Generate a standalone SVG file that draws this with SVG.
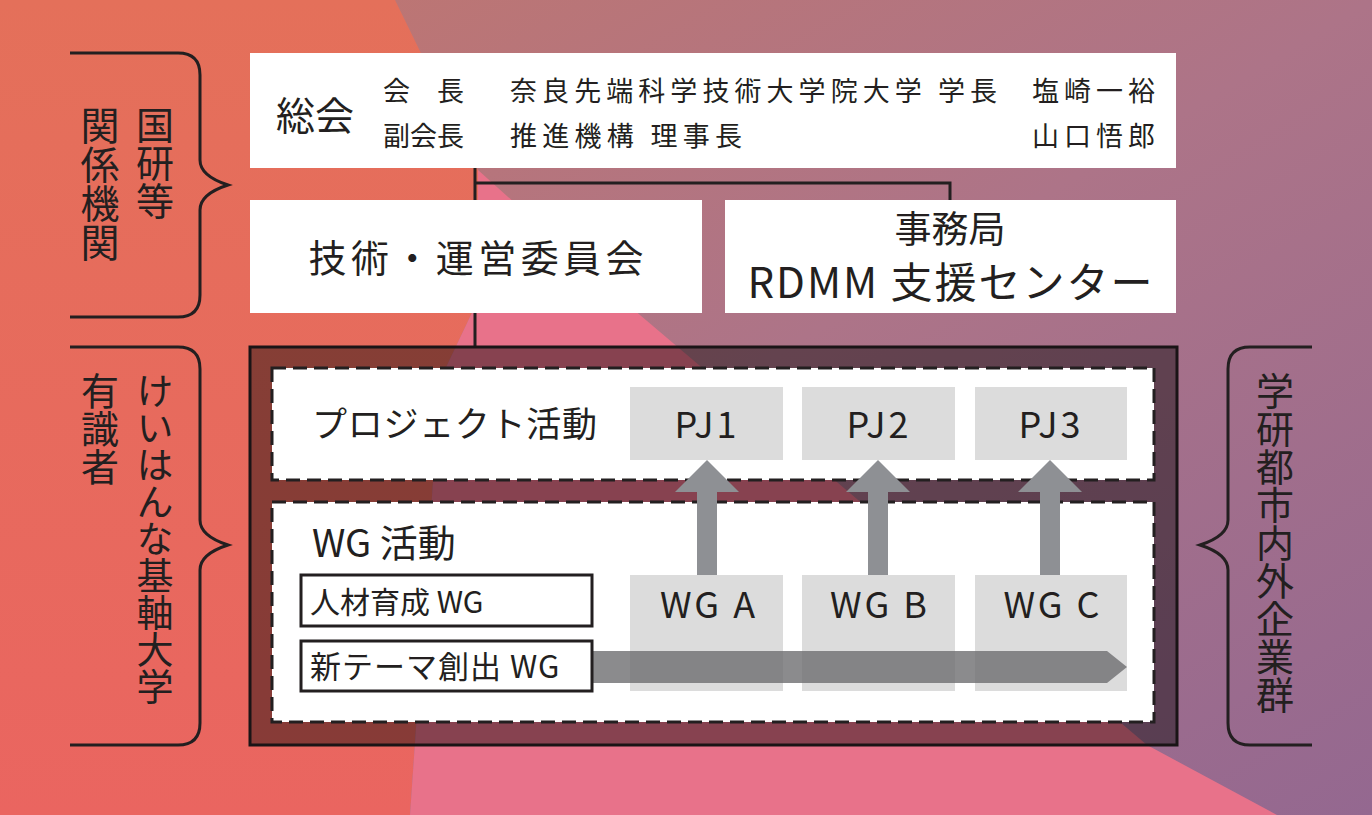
<svg xmlns="http://www.w3.org/2000/svg" width="1372" height="815" viewBox="0 0 1372 815">
<defs>
<linearGradient id="bgm" x1="0" y1="0" x2="1" y2="1"><stop offset="0" stop-color="#c2766c"/><stop offset="0.5" stop-color="#ad7488"/><stop offset="1" stop-color="#946890"/></linearGradient>
<linearGradient id="bgo" x1="0" y1="0" x2="0" y2="1"><stop offset="0" stop-color="#e4705a"/><stop offset="1" stop-color="#ea6560"/></linearGradient>
<style>
text{font-family:"Noto Sans CJK JP","Noto Sans",sans-serif;fill:#231f20}
.box{fill:#fff}
.ln{stroke:#231f20;stroke-width:3;fill:none}
.dash{fill:#fff;stroke:#231f20;stroke-width:3;stroke-dasharray:14 7}
.g{fill:#dcdcdc}
.up{fill:#8e9094}
.v{writing-mode:vertical-rl}
</style>
</defs>
<rect width="1372" height="815" fill="url(#bgm)"/>
<polygon points="0,0 395,0 478,170 478,300 440,380 410,815 0,815" fill="url(#bgo)"/>
<polygon points="478,170 640,315 1147,745 1277,815 410,815 440,380 478,300" fill="#e8728a"/>
<g id="brackets">
<path class="ln" d="M70,53 H178 Q200,53 200,75 V160 Q200,176 228,185 Q200,194 200,210 V295 Q200,317 178,317 H70"/>
<path class="ln" d="M70,347 H178 Q200,347 200,369 V520 Q200,536 228,545 Q200,554 200,570 V723 Q200,745 178,745 H70"/>
<path class="ln" d="M1312,347 H1250 Q1228,347 1228,369 V520 Q1228,536 1200,545 Q1228,554 1228,570 V723 Q1228,745 1250,745 H1312"/>
</g>
<text class="v" x="155" y="106" font-size="38">国研等</text>
<text class="v" x="100" y="106" font-size="39">関係機関</text>
<text class="v" x="155" y="372" font-size="37">けいはんな基軸大学</text>
<text class="v" x="100" y="372" font-size="38">有識者</text>
<text class="v" x="1275" y="372" font-size="38">学研都市内外企業群</text>
<g id="connectors">
<path class="ln" d="M475,168 V347 M475,183 H950 V200"/>
</g>
<g id="soukai">
<rect class="box" x="250" y="53" width="926" height="115"/>
<text x="276" y="130" font-size="39">総会</text>
<text x="383" y="101" font-size="27">会　長</text>
<text x="510" y="101" font-size="27" textLength="487">奈良先端科学技術大学院大学 学長</text>
<text x="1032" y="101" font-size="27" textLength="123">塩崎一裕</text>
<text x="383" y="146" font-size="27">副会長</text>
<text x="510" y="146" font-size="27" textLength="232">推進機構 理事長</text>
<text x="1032" y="146" font-size="27" textLength="123">山口悟郎</text>
</g>
<g id="iinkai">
<rect class="box" x="250" y="200" width="452" height="113"/>
<text x="476" y="272" font-size="38" text-anchor="middle" textLength="335">技術・運営委員会</text>
</g>
<g id="jimukyoku">
<rect class="box" x="725" y="200" width="451" height="113"/>
<text x="950" y="243" font-size="37" text-anchor="middle">事務局</text>
<text x="951" y="298" font-size="42" text-anchor="middle" letter-spacing="2">RDMM 支援センター</text>
</g>
<g id="frame">
<rect x="250" y="347" width="927" height="398" fill="#000" fill-opacity="0.42" stroke="#1a1416" stroke-width="3"/>
</g>
<g id="project">
<rect class="dash" x="272" y="368" width="882" height="112"/>
<text x="312" y="437" font-size="35" textLength="285">プロジェクト活動</text>
</g>
<g id="wg">
<rect class="dash" x="272" y="502" width="882" height="220"/>
<text x="312" y="557" font-size="38">WG 活動</text>
</g>
<g id="pj1"><rect class="g" x="630" y="387" width="153" height="73"/><text x="707" y="438" font-size="36" text-anchor="middle" letter-spacing="3">PJ1</text></g>
<g id="pj2"><rect class="g" x="802" y="387" width="153" height="73"/><text x="879" y="438" font-size="36" text-anchor="middle" letter-spacing="3">PJ2</text></g>
<g id="pj3"><rect class="g" x="975" y="387" width="152" height="73"/><text x="1051" y="438" font-size="36" text-anchor="middle" letter-spacing="3">PJ3</text></g>
<g id="wga"><rect class="g" x="630" y="575" width="153" height="116"/><text x="709" y="618" font-size="36" text-anchor="middle" letter-spacing="3">WG A</text></g>
<g id="wgb"><rect class="g" x="802" y="575" width="153" height="116"/><text x="880" y="618" font-size="36" text-anchor="middle" letter-spacing="3">WG B</text></g>
<g id="wgc"><rect class="g" x="975" y="575" width="152" height="116"/><text x="1053" y="618" font-size="36" text-anchor="middle" letter-spacing="3">WG C</text></g>
<g id="arrows">
<polygon class="up" points="697,575 697,492 675,492 707,460 739,492 717,492 717,575"/>
<polygon class="up" points="868,575 868,492 846,492 878,460 910,492 888,492 888,575"/>
<polygon class="up" points="1040,575 1040,492 1018,492 1050,460 1082,492 1060,492 1060,575"/>
<polygon points="592,651 1107,651 1127,667 1107,683 592,683" fill="#6e6e70" fill-opacity="0.8"/>
</g>
<g id="jinzai"><rect x="301" y="575" width="291" height="51" fill="#fff" stroke="#231f20" stroke-width="3"/><text x="310" y="613" font-size="30">人材育成 WG</text></g>
<g id="shintema"><rect x="301" y="641" width="291" height="50" fill="#fff" stroke="#231f20" stroke-width="3"/><text x="310" y="678" font-size="31" letter-spacing="1">新テーマ創出 WG</text></g>
</svg>
